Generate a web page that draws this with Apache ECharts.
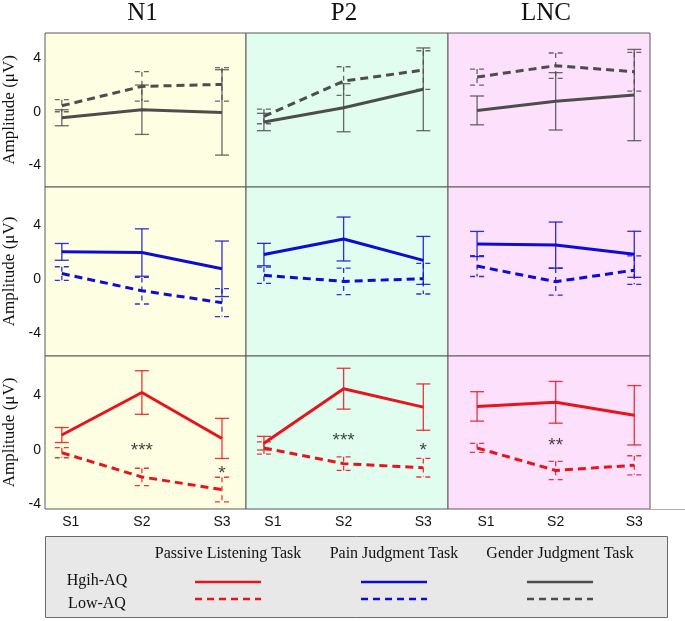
<!DOCTYPE html>
<html>
<head>
<meta charset="utf-8">
<script src="https://cdn.jsdelivr.net/npm/echarts@6/dist/echarts.min.js"></script>
<style>
  html, body { margin: 0; padding: 0; background: #fff; }
  #chart { width: 685px; height: 621px; }
</style>
</head>
<body>
<div id="chart"></div>
<script>
// data: [component][stage], components N1 / P2 / LNC
const components = ['N1', 'P2', 'LNC'];
const stages = ['S1', 'S2', 'S3'];
const tasks = ['Passive Listening Task', 'Pain Judgment Task', 'Gender Judgment Task'];
const groups = ['Hgih-AQ', 'Low-AQ'];

const genderHighMean = [[-0.45, 0.15, -0.05], [-0.77, 0.3, 1.68], [0.1, 0.78, 1.25]];
const genderHighErr = [[0.6, 1.85, 3.2], [0.65, 1.8, 3.1], [1.08, 2.15, 3.42]];
const genderLowMean = [[0.45, 1.9, 2.05], [-0.35, 2.3, 3.12], [2.6, 3.45, 3.0]];
const genderLowErr = [[0.45, 1.1, 1.25], [0.55, 1.07, 1.45], [0.6, 0.95, 1.45]];

const painHighMean = [[2.0, 1.95, 0.75], [1.8, 2.95, 1.37], [2.58, 2.5, 1.82]];
const painHighErr = [[0.62, 1.75, 2.05], [0.83, 1.62, 1.77], [0.93, 1.7, 1.7]];
const painLowMean = [[0.4, -0.87, -1.75], [0.27, -0.18, 0.02], [0.95, -0.2, 0.65]];
const painLowErr = [[0.5, 0.98, 1.03], [0.6, 0.98, 1.13], [0.77, 1.0, 1.05]];

const passiveHighMean = [[1.1, 4.22, 0.85], [0.5, 4.5, 3.15], [3.2, 3.5, 2.55]];
const passiveHighErr = [[0.55, 1.6, 1.47], [0.5, 1.5, 1.7], [1.08, 1.53, 2.18]];
const passiveLowMean = [[-0.2, -1.98, -2.9], [0.15, -1.0, -1.3], [0.15, -1.5, -1.12]];
const passiveLowErr = [[0.37, 0.64, 0.9], [0.45, 0.5, 0.68], [0.33, 0.67, 0.7]];

// significance marks in the passive listening row: [component, stage, y, text]
const sigMarks = [[0, 2, 0.25, '***'], [0, 3, -1.45, '*'], [1, 2, 0.98, '***'], [1, 3, 0.24, '*'], [2, 2, 0.6, '**']];

const yTicks = [-4, 0, 4];

// layout
const colLeft = [45, 246, 448];
const colWidth = [201, 202, 202];
const colX = [[0.79, 3.3], [0.775, 3.31], [0.63, 3.2]];
const colBg = ['#fefee2', '#e0fdf0', '#fde0fc'];
const rowTop = [33, 187, 356];
const rowHeight = [154, 169, 153];
const rowY = [[-5.64, 5.9], [-5.69, 6.79], [-4.33, 6.9]];

const rows = [
  { color: '#4d4d4d', hi: genderHighMean, hiErr: genderHighErr, lo: genderLowMean, loErr: genderLowErr },
  { color: '#0c0cd4', hi: painHighMean, hiErr: painHighErr, lo: painLowMean, loErr: painLowErr },
  { color: '#e8141c', hi: passiveHighMean, hiErr: passiveHighErr, lo: passiveLowMean, loErr: passiveLowErr }
];
const legendColors = ['#e8141c', '#0c0cd4', '#4d4d4d'];

const serif = '"Liberation Serif", "DejaVu Serif", serif';
const sans = '"Liberation Sans", Arial, sans-serif';

function errorBars(color, dashed) {
  return function (params, api) {
    const x = api.value(0), m = api.value(1), e = api.value(2);
    const top = api.coord([x, m + e]);
    const bot = api.coord([x, m - e]);
    const w = 7;
    const st = () => ({ stroke: color, lineWidth: 1.3, opacity: 0.85, lineDash: dashed ? [5, 4] : null });
    return {
      type: 'group',
      children: [
        { type: 'line', shape: { x1: top[0], y1: top[1], x2: bot[0], y2: bot[1] }, style: st() },
        { type: 'line', shape: { x1: top[0] - w, y1: top[1], x2: top[0] + w, y2: top[1] }, style: st() },
        { type: 'line', shape: { x1: bot[0] - w, y1: bot[1], x2: bot[0] + w, y2: bot[1] }, style: st() }
      ]
    };
  };
}

const grid = [], xAxis = [], yAxis = [], series = [];

rows.forEach((row, r) => {
  components.forEach((comp, c) => {
    const idx = r * 3 + c;
    grid.push({
      left: colLeft[c], top: rowTop[r], width: colWidth[c], height: rowHeight[r],
      show: true, backgroundColor: colBg[c], borderColor: '#5a5a5a', borderWidth: 1,
      outerBoundsMode: 'none'
    });
    xAxis.push({
      gridIndex: idx, type: 'value', min: colX[c][0], max: colX[c][1],
      axisLine: { show: false }, axisTick: { show: false }, splitLine: { show: false },
      axisLabel: {
        show: r === 2, customValues: [1, 2, 3], margin: 6,
        formatter: (v) => (Math.round(v) === 1 ? '{s1|S1}' : stages[Math.round(v) - 1]),
        rich: { s1: { padding: [0, 0, 0, 18], color: '#111', fontSize: 14, fontFamily: sans } },
        color: '#111', fontSize: 14, fontFamily: sans
      }
    });
    yAxis.push({
      gridIndex: idx, type: 'value', min: rowY[r][0], max: rowY[r][1],
      axisLine: { show: false }, axisTick: { show: false }, splitLine: { show: false },
      axisLabel: { show: c === 0, customValues: yTicks, margin: 4, color: '#111', fontSize: 14, fontFamily: sans },
      name: c === 0 ? 'Amplitude (μV)' : '', nameLocation: 'middle', nameGap: 27,
      nameTextStyle: { fontFamily: serif, fontSize: 17, color: '#111' }
    });

    [['hi', 'hiErr', false], ['lo', 'loErr', true]].forEach(([mk, ek, dashed]) => {
      const pts = stages.map((s, i) => [i + 1, row[mk][c][i], row[ek][c][i]]);
      series.push({
        type: 'custom', xAxisIndex: idx, yAxisIndex: idx, silent: true,
        renderItem: errorBars(row.color, dashed), encode: { x: 0, y: 1 }, data: pts, z: 2
      });
      series.push({
        type: 'line', xAxisIndex: idx, yAxisIndex: idx, symbol: 'none', silent: true,
        data: pts.map((p) => [p[0], p[1]]), z: 3,
        lineStyle: { color: row.color, width: 3, type: dashed ? [8, 5] : 'solid' }
      });
    });
  });
});

components.forEach((comp, c) => {
  series.push({
    type: 'scatter', xAxisIndex: 6 + c, yAxisIndex: 6 + c, symbolSize: 1, silent: true,
    itemStyle: { color: 'transparent' }, z: 4,
    data: sigMarks.filter((m) => m[0] === c).map((m) => [m[1], m[2], m[3]]),
    label: { show: true, position: 'inside', offset: [0, 4], formatter: (p) => p.value[2], color: '#111', fontSize: 19, fontFamily: sans }
  });
});

const graphic = [];
components.forEach((comp, c) => {
  graphic.push({
    type: 'text', x: colLeft[c] + colWidth[c] / 2 - 3, y: 13,
    style: { text: comp, font: '25px ' + serif, fill: '#111', align: 'center', verticalAlign: 'middle' }
  });
});
graphic.push({ type: 'line', shape: { x1: 650, y1: 509.5, x2: 685, y2: 509.5 }, style: { stroke: '#b0b0b0', lineWidth: 1 } });
// legend box
graphic.push({ type: 'rect', shape: { x: 45.5, y: 536.5, width: 622, height: 81 }, style: { fill: '#e8e8e8', stroke: '#6a6a6a', lineWidth: 1 } });
const taskX = [228, 394, 560];
tasks.forEach((t, i) => {
  graphic.push({ type: 'text', x: taskX[i], y: 554, style: { text: t, font: '16px ' + serif, fill: '#111', align: 'center', verticalAlign: 'middle' } });
  graphic.push({ type: 'line', shape: { x1: taskX[i] - 33, y1: 582, x2: taskX[i] + 33, y2: 582 }, style: { stroke: legendColors[i], lineWidth: 2.5 } });
  graphic.push({ type: 'line', shape: { x1: taskX[i] - 33, y1: 599, x2: taskX[i] + 33, y2: 599 }, style: { stroke: legendColors[i], lineWidth: 2.5, lineDash: [7, 5] } });
});
groups.forEach((g, i) => {
  graphic.push({ type: 'text', x: 97, y: 581 + i * 23, style: { text: g, font: '16px ' + serif, fill: '#111', align: 'center', verticalAlign: 'middle' } });
});

const chart = echarts.init(document.getElementById('chart'), null, { renderer: 'canvas' });
chart.setOption({ animation: false, grid, xAxis, yAxis, series, graphic });
</script>
</body>
</html>
